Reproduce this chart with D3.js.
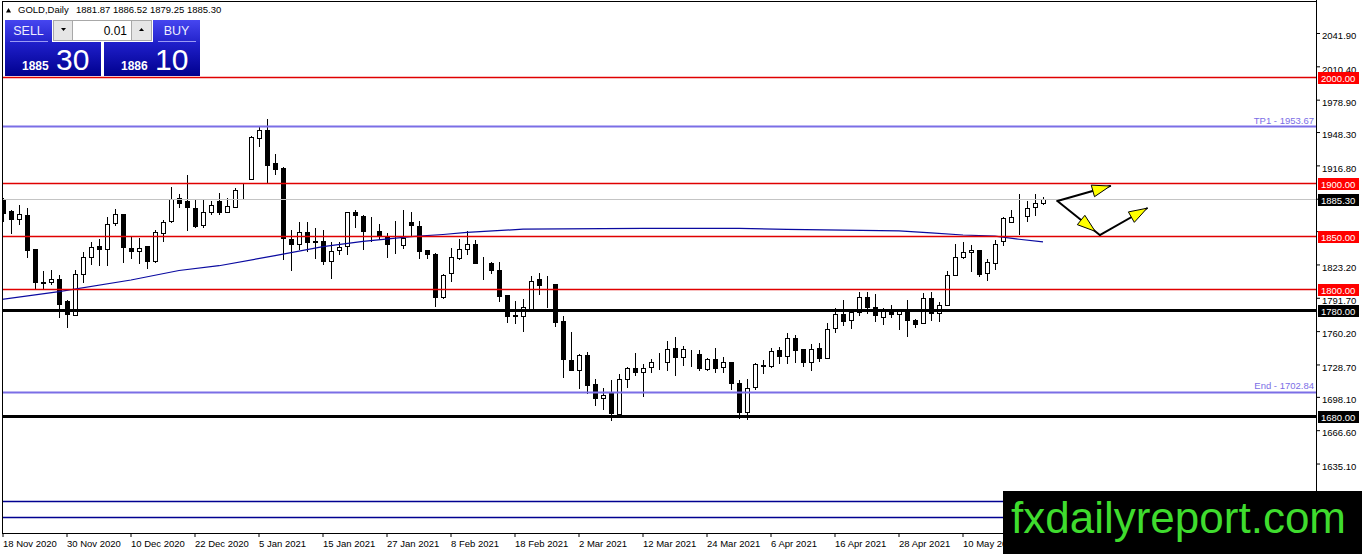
<!DOCTYPE html>
<html>
<head>
<meta charset="utf-8">
<script src="https://cdn.jsdelivr.net/npm/d3@7"></script>
<style>
  body { margin: 0; background: #fff; }
  svg { display: block; font-family: "Liberation Sans", Arial, sans-serif; }
</style>
</head>
<body>
<svg id="chart" width="1362" height="554"></svg>
<script>
// trading days shown on the chart
const dates = [
  "2020-11-18","2020-11-19","2020-11-20","2020-11-23","2020-11-24","2020-11-25","2020-11-26","2020-11-27","2020-11-30",
  "2020-12-01","2020-12-02","2020-12-03","2020-12-04","2020-12-07","2020-12-08","2020-12-09","2020-12-10","2020-12-11",
  "2020-12-14","2020-12-15","2020-12-16","2020-12-17","2020-12-18","2020-12-21","2020-12-22","2020-12-23","2020-12-24",
  "2020-12-28","2020-12-29","2020-12-30","2020-12-31",
  "2021-01-04","2021-01-05","2021-01-06","2021-01-07","2021-01-08","2021-01-11","2021-01-12","2021-01-13","2021-01-14",
  "2021-01-15","2021-01-18","2021-01-19","2021-01-20","2021-01-21","2021-01-22","2021-01-25","2021-01-26","2021-01-27",
  "2021-01-28","2021-01-29",
  "2021-02-01","2021-02-02","2021-02-03","2021-02-04","2021-02-05","2021-02-08","2021-02-09","2021-02-10","2021-02-11",
  "2021-02-12","2021-02-15","2021-02-16","2021-02-17","2021-02-18","2021-02-19","2021-02-22","2021-02-23","2021-02-24",
  "2021-02-25","2021-02-26",
  "2021-03-01","2021-03-02","2021-03-03","2021-03-04","2021-03-05","2021-03-08","2021-03-09","2021-03-10","2021-03-11",
  "2021-03-12","2021-03-15","2021-03-16","2021-03-17","2021-03-18","2021-03-19","2021-03-22","2021-03-23","2021-03-24",
  "2021-03-25","2021-03-26","2021-03-29","2021-03-30","2021-03-31",
  "2021-04-01","2021-04-05","2021-04-06","2021-04-07","2021-04-08","2021-04-09","2021-04-12","2021-04-13","2021-04-14",
  "2021-04-15","2021-04-16","2021-04-19","2021-04-20","2021-04-21","2021-04-22","2021-04-23","2021-04-26","2021-04-27",
  "2021-04-28","2021-04-29","2021-04-30",
  "2021-05-03","2021-05-04","2021-05-05","2021-05-06","2021-05-07","2021-05-10","2021-05-11","2021-05-12","2021-05-13",
  "2021-05-14","2021-05-17","2021-05-18","2021-05-19","2021-05-20","2021-05-21","2021-05-24"
];

// open, high, low, close per day
const ohlc = [
  [1884.4,1886.0,1863.7,1871.7],[1873.3,1875.0,1852.0,1865.3],[1865.3,1879.0,1860.5,1870.4],[1869.8,1876.4,1829.7,1836.7],
  [1837.6,1838.0,1800.0,1806.4],[1806.0,1817.0,1800.0,1806.8],[1806.4,1818.0,1804.0,1809.3],[1809.3,1813.4,1773.0,1786.0],
  [1788.3,1789.5,1763.4,1775.6],[1775.6,1817.6,1775.0,1814.0],[1814.4,1835.0,1805.5,1830.3],[1830.0,1844.3,1822.3,1839.5],
  [1841.0,1847.0,1821.4,1838.0],[1838.3,1868.5,1821.4,1861.8],[1861.8,1875.5,1860.0,1870.4],[1870.4,1870.6,1824.6,1838.9],
  [1838.9,1849.4,1828.7,1836.0],[1836.0,1847.8,1824.0,1838.9],[1840.8,1841.0,1819.0,1826.5],[1826.5,1855.7,1824.6,1853.5],
  [1853.2,1865.3,1844.6,1863.7],[1863.7,1896.5,1862.0,1884.7],[1886.0,1889.8,1876.4,1881.0],[1882.8,1907.6,1854.8,1877.0],
  [1877.0,1884.4,1857.4,1860.0],[1860.0,1884.0,1857.4,1872.3],[1872.3,1882.8,1870.0,1879.0],[1882.8,1890.8,1870.0,1872.6],
  [1872.6,1885.7,1871.7,1878.0],[1878.0,1895.0,1877.4,1894.0],[1894.2,1899.4,1884.4,1893.9],[1903.5,1945.0,1903.0,1943.3],
  [1942.7,1953.8,1933.8,1950.6],[1950.6,1960.2,1900.3,1917.8],[1919.4,1928.0,1907.3,1914.0],[1914.6,1915.0,1827.0,1848.7],
  [1847.5,1855.7,1816.6,1842.4],[1842.4,1863.0,1837.3,1854.0],[1854.0,1863.0,1835.0,1844.6],[1845.5,1857.3,1828.0,1844.6],
  [1845.5,1855.7,1822.3,1827.0],[1827.0,1844.6,1809.0,1836.3],[1836.6,1844.6,1831.8,1839.8],[1839.8,1872.5,1831.8,1872.3],
  [1872.3,1874.2,1858.0,1869.0],[1869.4,1869.6,1836.6,1855.0],[1855.4,1867.8,1844.6,1855.0],[1855.0,1861.0,1846.0,1851.0],
  [1850.0,1852.5,1829.6,1842.4],[1842.6,1864.6,1833.4,1842.4],[1841.4,1874.8,1838.2,1847.8],[1863.0,1872.3,1850.0,1859.9],
  [1859.9,1864.6,1828.0,1836.6],[1836.6,1837.0,1828.6,1832.8],[1833.4,1834.0,1783.0,1792.7],[1792.6,1814.0,1790.4,1813.1],
  [1814.7,1838.6,1806.8,1829.8],[1828.9,1847.2,1827.3,1837.7],[1837.4,1854.4,1832.3,1842.4],[1842.4,1846.2,1823.5,1824.1],
  [1823.8,1829.8,1808.7,1823.5],[1824.1,1825.7,1814.0,1817.2],[1817.8,1825.7,1787.9,1793.5],[1794.2,1794.5,1767.7,1774.6],
  [1775.8,1788.2,1766.7,1775.2],[1774.6,1790.4,1759.8,1783.1],[1781.0,1812.5,1780.3,1807.7],[1809.3,1814.7,1794.5,1803.6],
  [1803.9,1812.5,1782.5,1803.5],[1804.6,1804.8,1764.2,1768.9],[1769.3,1774.6,1715.6,1733.6],[1732.7,1759.8,1722.6,1723.5],
  [1723.5,1738.3,1705.2,1737.4],[1737.4,1740.5,1700.5,1709.3],[1710.0,1715.3,1689.5,1696.4],[1696.4,1706.8,1685.7,1699.6],
  [1701.4,1714.0,1675.3,1682.2],[1682.2,1719.4,1680.0,1715.3],[1715.3,1726.4,1706.8,1725.7],[1725.7,1739.3,1717.9,1721.6],
  [1721.6,1728.9,1698.3,1725.7],[1726.7,1733.6,1721.0,1731.1],[1731.1,1739.9,1723.5,1731.3],[1731.1,1751.0,1722.6,1743.7],
  [1744.7,1754.8,1717.9,1736.1],[1735.8,1746.2,1727.3,1743.7],[1737.7,1742.1,1726.4,1737.4],[1738.3,1742.1,1722.6,1725.1],
  [1725.1,1735.2,1722.6,1734.2],[1733.6,1744.7,1721.0,1725.1],[1726.4,1736.1,1720.4,1731.4],[1731.1,1731.3,1704.6,1711.5],
  [1711.5,1713.7,1677.5,1683.8],[1684.1,1714.7,1676.2,1706.8],[1706.8,1730.5,1704.6,1728.9],[1727.8,1732.7,1720.0,1727.3],
  [1727.3,1744.7,1725.7,1741.5],[1742.1,1745.3,1729.5,1736.8],[1736.8,1758.2,1729.5,1754.1],[1754.1,1756.3,1730.5,1742.4],
  [1743.1,1743.3,1726.4,1731.1],[1731.4,1747.8,1722.6,1743.7],[1744.7,1748.8,1731.4,1735.2],[1735.2,1768.3,1734.6,1762.6],
  [1762.6,1782.5,1758.8,1776.2],[1776.8,1789.4,1765.2,1769.9],[1769.9,1780.0,1762.6,1777.8],[1777.8,1796.7,1774.6,1792.0],
  [1792.0,1796.7,1776.2,1782.5],[1783.2,1795.0,1768.5,1775.9],[1773.6,1782.2,1766.3,1780.0],[1779.7,1784.5,1772.7,1775.9],
  [1775.9,1781.3,1761.5,1779.0],[1778.4,1789.3,1754.5,1770.4],[1771.1,1771.3,1763.1,1766.9],[1767.9,1796.6,1767.7,1791.8],
  [1791.8,1797.6,1769.5,1777.5],[1777.5,1787.7,1768.5,1784.8],[1784.8,1816.7,1784.5,1813.5],[1813.5,1842.9,1812.6,1830.1],
  [1830.1,1844.5,1828.5,1834.9],[1834.9,1841.3,1816.4,1837.1],[1837.1,1837.3,1811.0,1814.2],[1814.8,1828.5,1807.8,1825.3],
  [1825.3,1846.1,1818.3,1842.9],[1845.1,1868.4,1840.3,1866.8],[1863.6,1874.8,1862.0,1868.4],[1869.4,1890.1,1850.9,1869.0],
  [1869.4,1883.4,1863.6,1877.0],[1877.0,1889.8,1869.0,1881.2],[1881.87,1886.52,1879.25,1885.30]
];

// moving average, sampled as [bar index, price]
const maPoints = [
  [-0.4,1790.0],[7,1797.5],[16,1808.5],[22,1817.5],[27,1822.0],[34,1831.5],[40,1840.0],[45,1845.0],
  [51,1849.5],[55,1851.5],[58,1853.5],[65,1856.5],[80,1857.3],[92,1857.2],[98,1856.3],[105,1855.7],
  [112,1855.0],[116,1853.0],[120,1851.0],[124,1850.0],[127,1847.0],[130,1844.5]
];

const priceTicks = [2041.90, 2010.40, 1978.90, 1948.30, 1916.80, 1885.30, 1854.70, 1823.20,
                    1791.70, 1760.20, 1728.70, 1698.10, 1666.60, 1635.10];
const redLevels = [2000, 1900, 1850, 1800];
const blackLevels = [1780, 1680];
const navyLevels = [1600, 1585];
const targetNames = ["TP1", "End"];
const targetValues = [1953.67, 1702.84];
const bid = 1885.30;

const headerValues = [1881.87, 1886.52, 1879.25, 1885.30];
const sellQuote = ["1885", "30"];
const buyQuote = ["1886", "10"];
const lotSize = "0.01";

// forecast arrows drawn by hand on the chart, [bar index, price]
const arrows = [
  {from: [131.8, 1883.2], to: [138.4, 1897.3], back: 0},
  {from: [131.8, 1883.2], to: [137.1, 1851.0], back: 6},
  {from: [137.1, 1851.0], to: [143.0, 1876.3], back: 0}
];

const plot = {left: 2.5, top: 1.5, right: 1316.5, bottom: 533.5};
const svg = d3.select("#chart");

const x = d3.scaleLinear().domain([0, 130]).range([3, 1043]);
const y = d3.scaleLinear().domain([1800, 1680]).range([289, 416]);
const crisp = v => Math.round(v) + 0.5;

const defs = svg.append("defs");
defs.append("clipPath").attr("id", "plotclip")
  .append("rect")
  .attr("x", plot.left).attr("y", plot.top)
  .attr("width", plot.right - plot.left).attr("height", plot.bottom - plot.top);

function grad(id, top, bottom) {
  const lg = defs.append("linearGradient").attr("id", id)
    .attr("x1", 0).attr("y1", 0).attr("x2", 0).attr("y2", 1);
  lg.append("stop").attr("offset", "0%").attr("stop-color", top);
  lg.append("stop").attr("offset", "100%").attr("stop-color", bottom);
}
grad("btnGrad", "#4646f0", "#2424cc");
grad("quoteGrad", "#2020cc", "#00008e");

const g = svg.append("g").attr("clip-path", "url(#plotclip)");

// candles
const candles = g.append("g").attr("shape-rendering", "crispEdges");
const bars = candles.selectAll("g.bar").data(ohlc).enter().append("g").attr("class", "bar");
bars.append("line")
  .attr("x1", (d, i) => x(i) + 0.5).attr("x2", (d, i) => x(i) + 0.5)
  .attr("y1", d => y(d[1])).attr("y2", d => y(d[2]))
  .attr("stroke", "#000");
bars.append("rect")
  .attr("x", (d, i) => x(i) - 1.5)
  .attr("width", 4)
  .attr("y", d => crisp(y(Math.max(d[0], d[3]))))
  .attr("height", d => Math.max(0, Math.round(Math.abs(y(d[0]) - y(d[3])))))
  .attr("fill", d => d[3] >= d[0] ? "#fff" : "#000")
  .attr("stroke", "#000");

// moving average
g.append("path")
  .datum(maPoints)
  .attr("fill", "none")
  .attr("stroke", "#0a0aa0")
  .attr("stroke-width", 1.2)
  .attr("d", d3.line().x(d => x(d[0])).y(d => y(d[1])));

// horizontal levels
function hline(values, color, width, cls) {
  g.append("g").attr("class", cls).selectAll("line").data(values).enter().append("line")
    .attr("x1", plot.left).attr("x2", plot.right)
    .attr("y1", d => Math.round(y(d)) + 0.5)
    .attr("y2", d => Math.round(y(d)) + 0.5)
    .attr("stroke", color).attr("stroke-width", width);
}
hline([bid], "#c4c4c4", 1, "bid");
hline(navyLevels, "#000090", 1.3, "navy");
hline(redLevels, "#e00000", 1.4, "red");
hline(targetValues, "#7b6ee6", 2.2, "target");
hline(blackLevels, "#000", 3, "black");

svg.append("g").selectAll("text").data(targetValues).enter().append("text")
  .attr("x", 1314).attr("y", d => y(d) - 2.5)
  .attr("text-anchor", "end")
  .attr("font-size", "9.5px")
  .attr("fill", "#7b6ee6")
  .text((d, i) => `${targetNames[i]} - ${d.toFixed(2)}`);

// arrows
const ag = g.append("g");
arrows.forEach(a => {
  const x0 = x(a.from[0]), y0 = y(a.from[1]);
  const x1 = x(a.to[0]), y1 = y(a.to[1]);
  const len = Math.hypot(x1 - x0, y1 - y0);
  const ux = (x1 - x0) / len, uy = (y1 - y0) / len;
  ag.append("line").attr("x1", x0).attr("y1", y0).attr("x2", x1).attr("y2", y1)
    .attr("stroke", "#000").attr("stroke-width", 2).attr("stroke-linecap", "round");
  const tx = x1 - ux * a.back, ty = y1 - uy * a.back;
  const bx = tx - ux * 18, by = ty - uy * 18;
  const w = 6;
  ag.append("path")
    .attr("d", `M${tx},${ty}L${bx - uy * w},${by + ux * w}L${bx + uy * w},${by - ux * w}Z`)
    .attr("fill", "#ffff00").attr("stroke", "#000").attr("stroke-width", 1);
});

// frame
svg.append("rect")
  .attr("x", plot.left).attr("y", plot.top)
  .attr("width", plot.right - plot.left).attr("height", plot.bottom - plot.top)
  .attr("fill", "none").attr("stroke", "#000").attr("shape-rendering", "crispEdges");
svg.append("line").attr("x1", plot.right).attr("x2", plot.right).attr("y1", 0).attr("y2", 554)
  .attr("stroke", "#000").attr("shape-rendering", "crispEdges");

// price tags on axis
const tags = [
  ...redLevels.map(v => ({v, bg: "#ff0000"})),
  ...blackLevels.map(v => ({v, bg: "#000"})),
  {v: bid, bg: "#000"}
];

// price axis (labels hidden where a tag sits on top of them)
const covered = v => tags.some(t => Math.abs(y(t.v) - y(v)) < 6);
const yAxis = d3.axisRight(y).tickValues(priceTicks)
  .tickFormat(v => covered(v) ? "" : d3.format(".2f")(v)).tickSize(4).tickPadding(2);
const ya = svg.append("g").attr("transform", `translate(${plot.right - 0.5},0)`).call(yAxis);
ya.select(".domain").remove();
ya.selectAll("text").attr("dy", "0.6em").attr("font-size", "9.5px")
  .attr("font-family", "Liberation Sans, Arial, sans-serif").attr("fill", "#000");

const tg = svg.append("g").selectAll("g").data(tags).enter().append("g");
tg.append("rect")
  .attr("x", 1318).attr("y", d => Math.round(y(d.v)) - 5)
  .attr("width", 41).attr("height", 12)
  .attr("fill", d => d.bg).attr("shape-rendering", "crispEdges");
tg.append("text")
  .attr("x", 1321).attr("y", d => Math.round(y(d.v)) + 5)
  .attr("font-size", "9.5px").attr("fill", "#fff")
  .text(d => d.v.toFixed(2));

// time axis
const parse = d3.timeParse("%Y-%m-%d");
const fmt = d3.timeFormat("%-d %b %Y");
const tickIdx = d3.range(0, dates.length, 8).filter(i => x(i) < 1000);
const xAxis = d3.axisBottom(x).tickValues(tickIdx).tickFormat(i => fmt(parse(dates[i])))
  .tickSize(4).tickPadding(3);
const xa = svg.append("g").attr("transform", `translate(-0.5,${plot.bottom - 0.5})`).call(xAxis);
xa.select(".domain").remove();
xa.selectAll("text").attr("text-anchor", "start").attr("dx", "0px").attr("dy", "0.75em")
  .attr("font-size", "9.5px").attr("font-family", "Liberation Sans, Arial, sans-serif").attr("fill", "#000");

// header line
const hdr = svg.append("g").attr("font-size", "9.5px").attr("fill", "#000");
hdr.append("path").attr("d", "M6,12.5L8.5,8L11,12.5Z").attr("fill", "#000");
hdr.append("text").attr("x", 18).attr("y", 13).text("GOLD,Daily");
hdr.append("text").attr("x", 76).attr("y", 13).text(headerValues.map(v => v.toFixed(2)).join(" "));

// one-click trading panel
const panel = svg.append("g");
function button(x0, w, label) {
  panel.append("rect").attr("x", x0).attr("y", 20).attr("width", w).attr("height", 22)
    .attr("fill", "url(#btnGrad)");
  panel.append("line").attr("x1", x0 + 5).attr("x2", x0 + w - 4).attr("y1", 41.5).attr("y2", 41.5)
    .attr("stroke", "#9a9af5");
  panel.append("text").attr("x", x0 + w / 2).attr("y", 35).attr("text-anchor", "middle")
    .attr("font-size", "12.5px").attr("fill", "#eef").text(label);
}
button(5, 47, "SELL");
button(153, 47, "BUY");

panel.append("rect").attr("x", 53.5).attr("y", 20.5).attr("width", 19).attr("height", 20)
  .attr("fill", "#e6e6e6").attr("stroke", "#a8a8a8");
panel.append("path").attr("d", "M61,28L66,28L63.5,31Z").attr("fill", "#000");
panel.append("rect").attr("x", 72.5).attr("y", 20.5).attr("width", 59).attr("height", 20)
  .attr("fill", "#fff").attr("stroke", "#a8a8a8");
panel.append("text").attr("x", 127).attr("y", 35).attr("text-anchor", "end")
  .attr("font-size", "12px").attr("fill", "#000").text(lotSize);
panel.append("rect").attr("x", 131.5).attr("y", 20.5).attr("width", 20).attr("height", 20)
  .attr("fill", "#e6e6e6").attr("stroke", "#a8a8a8");
panel.append("path").attr("d", "M139,31L144,31L141.5,28Z").attr("fill", "#000");

function quote(x0, q) {
  panel.append("rect").attr("x", x0).attr("y", 42).attr("width", 96).attr("height", 34)
    .attr("fill", "url(#quoteGrad)");
  panel.append("text").attr("x", x0 + 17).attr("y", 69.5)
    .attr("font-size", "12px").attr("font-weight", "bold").attr("fill", "#fff").text(q[0]);
  panel.append("text").attr("x", x0 + 51).attr("y", 69.5)
    .attr("font-size", "30px").attr("fill", "#fff").text(q[1]);
}
quote(5, sellQuote);
quote(104, buyQuote);

// watermark
svg.append("rect").attr("x", 1003).attr("y", 491).attr("width", 359).attr("height", 63).attr("fill", "#000");
svg.append("text").attr("x", 1011).attr("y", 533)
  .attr("font-size", "44px").attr("fill", "#3fdc2e").text("fxdailyreport.com");
</script>
</body>
</html>
